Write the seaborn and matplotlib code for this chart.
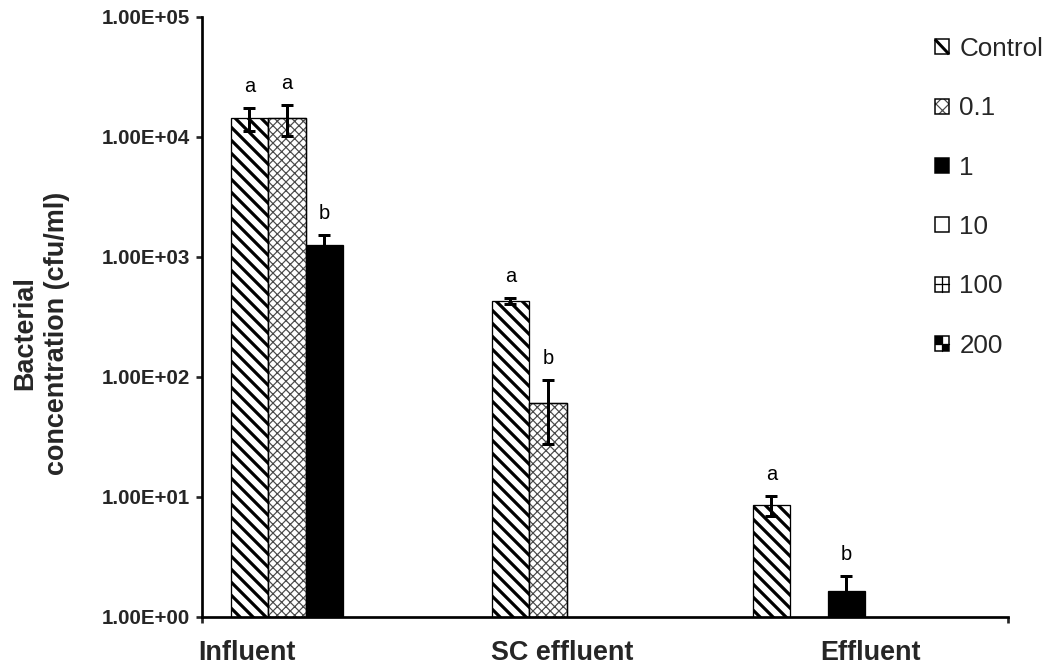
import numpy as np
import pandas as pd
import matplotlib
matplotlib.use("Agg")
import matplotlib.pyplot as plt
import seaborn as sns
from matplotlib.patches import Patch, Rectangle
from matplotlib.lines import Line2D
from matplotlib.legend_handler import HandlerBase
from matplotlib.ticker import FuncFormatter, NullLocator, FixedLocator

# ---------------- data ----------------
locations = ["Influent", "SC effluent", "Effluent"]
series = ["Control", "0.1", "1", "10", "100", "200"]

control_mean = [14400, 432, 8.6]
control_sd = [3200, 25, 1.6]
c01_mean = [14400, 61, np.nan]
c01_sd = [4200, 33.5, np.nan]
c1_mean = [1250, np.nan, 1.66]
c1_sd = [270, np.nan, 0.55]

control_letters = ["a", "a", "a"]
c01_letters = ["a", "b", ""]
c1_letters = ["b", "", "b"]

yticks = [1e0, 1e1, 1e2, 1e3, 1e4, 1e5]

rows = []
for name, means, sds, lets in [("Control", control_mean, control_sd, control_letters),
                               ("0.1", c01_mean, c01_sd, c01_letters),
                               ("1", c1_mean, c1_sd, c1_letters)]:
    for loc, m, s, l in zip(locations, means, sds, lets):
        if not np.isnan(m):
            rows.append({"location": loc, "series": name, "value": m, "sd": s, "letter": l})
df = pd.DataFrame(rows)

# ---------------- style ----------------
DPI = 156
W, H = 1053, 670
PT = 72.0 / DPI  # points per pixel

sns.set_style("white")
plt.rcParams["font.family"] = ["Liberation Sans", "DejaVu Sans"]
plt.rcParams["hatch.linewidth"] = 3.2 * PT

fig = plt.figure(figsize=(W / DPI, H / DPI), dpi=DPI)
ax = fig.add_axes([202 / W, 1 - 617 / H, (1008 - 202) / W, (617 - 17) / H])

palette = {"Control": "white", "0.1": "white", "1": "black",
           "10": "white", "100": "white", "200": "#555555"}
CONTROL_HATCH = "\\" * 4
CROSS_HATCH = "x" * 6
CROSS_COLOR = "#4a4a4a"
CROSS_LW = 1.2 * PT

sns.barplot(data=df, x="location", y="value", hue="series", order=locations,
            hue_order=series, palette=palette, width=0.86, dodge=True,
            errorbar=None, edgecolor="black", linewidth=1.3 * PT,
            saturation=1, legend=False, ax=ax)

ax.set_yscale("log")
ax.set_ylim(1, 1e5)
ax.set_xlim(-0.540, 2.548)

# match bars to data rows and style them
centers = {}
for patch in list(ax.patches):
    h = patch.get_height()
    if not np.isfinite(h) or h <= 0:
        continue
    cx = patch.get_x() + patch.get_width() / 2
    match = df[np.isclose(df["value"], h, rtol=1e-9)]
    for idx, r in match.iterrows():
        if idx in centers or abs(cx - locations.index(r["location"])) >= 0.5:
            continue
        centers[idx] = cx
        s = r["series"]
        if s == "Control":
            patch.set_hatch(CONTROL_HATCH)
            patch.set_edgecolor("black")
            if hasattr(patch, "set_hatch_linewidth"):
                patch.set_hatch_linewidth(3.2 * PT)
        elif s == "0.1":
            patch.set_facecolor("white")
            with plt.rc_context({"hatch.linewidth": CROSS_LW}):
                ov = Rectangle(patch.get_xy(), patch.get_width(), patch.get_height(),
                               fill=False, edgecolor=CROSS_COLOR, linewidth=0,
                               hatch=CROSS_HATCH, zorder=patch.get_zorder() + 0.1)
            if hasattr(ov, "set_hatch_linewidth"):
                ov.set_hatch_linewidth(CROSS_LW)
            ax.add_patch(ov)
            ax.add_patch(Rectangle(patch.get_xy(), patch.get_width(), patch.get_height(),
                                   fill=False, edgecolor="black", linewidth=1.3 * PT,
                                   zorder=patch.get_zorder() + 0.2))
        break

df["x"] = [centers[i] for i in df.index]

# error bars (cap length = 2 * capsize)
ax.errorbar(df["x"], df["value"], yerr=df["sd"], fmt="none", ecolor="black",
            elinewidth=3 * PT, capsize=6.3 * PT, capthick=3 * PT, zorder=5)

# significance letters
for _, r in df.iterrows():
    if r["letter"]:
        ax.annotate(r["letter"], (r["x"], r["value"] + r["sd"]),
                    xytext=(0, 16 * PT), textcoords="offset points",
                    ha="center", va="baseline", fontsize=20 * PT, color="black")

# y axis
ax.yaxis.set_major_locator(FixedLocator(yticks))
ax.yaxis.set_minor_locator(NullLocator())
ax.yaxis.set_major_formatter(FuncFormatter(lambda v, p: f"{v:.2E}"))
ax.tick_params(axis="y", which="major", direction="out", length=6 * PT,
               width=2.7 * PT, pad=6 * PT, labelsize=20.5 * PT, left=True)
for lab in ax.get_yticklabels():
    lab.set_fontweight("bold")

# x axis: labels at their layout positions, tick marks only at the ends
LABEL_X_PX = [247, 562, 870]
inv = ax.transData.inverted()
label_pos = [inv.transform((px, 0))[0] for px in LABEL_X_PX]
ax.set_xticks(label_pos)
ax.set_xticklabels(locations, fontweight="bold", fontsize=27 * PT)
ax.tick_params(axis="x", which="major", length=0, pad=23 * PT, bottom=True)
x0, x1 = ax.get_xlim()
ax.xaxis.set_minor_locator(FixedLocator([x0, x1]))
ax.tick_params(axis="x", which="minor", direction="out", length=6 * PT,
               width=2.7 * PT, bottom=True)
ax.set_xlabel("")
ax.set_ylabel("")

for side in ["top", "right"]:
    ax.spines[side].set_visible(False)
for side in ["left", "bottom"]:
    ax.spines[side].set_linewidth(2.7 * PT)
    ax.spines[side].set_color("black")

# y label
fig.text(41 / W, 1 - 333 / H, "Bacterial\nconcentration (cfu/ml)", rotation=90,
         ha="center", va="center", fontsize=27 * PT, fontweight="bold",
         linespacing=1.26, multialignment="center")


# legend with small drawn swatches
class Swatch(HandlerBase):
    def __init__(self, face, diag=False, cross=False, quads=False, hatch=None):
        super().__init__()
        self.face, self.diag, self.cross, self.quads, self.hatch = face, diag, cross, quads, hatch

    def create_artists(self, legend, orig_handle, xdescent, ydescent, width, height,
                       fontsize, trans):
        x0, y0 = -xdescent, -ydescent
        arts = [Rectangle((x0, y0), width, height, facecolor=self.face,
                          edgecolor="none", transform=trans)]
        if self.hatch:
            with plt.rc_context({"hatch.linewidth": CROSS_LW}):
                hp = Rectangle((x0, y0), width, height, fill=False, edgecolor=CROSS_COLOR,
                               linewidth=0, hatch=self.hatch, transform=trans)
            if hasattr(hp, "set_hatch_linewidth"):
                hp.set_hatch_linewidth(CROSS_LW)
            arts.append(hp)
        if self.quads:
            arts.append(Rectangle((x0, y0 + height / 2), width / 2, height / 2,
                                  facecolor="black", edgecolor="none", transform=trans))
            arts.append(Rectangle((x0 + width / 2, y0), width / 2, height / 2,
                                  facecolor="black", edgecolor="none", transform=trans))
        if self.diag:
            arts.append(Line2D([x0, x0 + width], [y0 + height, y0], color="black",
                               lw=3 * PT, solid_capstyle="butt", transform=trans))
        if self.cross:
            arts.append(Line2D([x0, x0 + width], [y0 + height / 2] * 2, color="black",
                               lw=1.3 * PT, transform=trans))
            arts.append(Line2D([x0 + width / 2] * 2, [y0, y0 + height], color="black",
                               lw=1.3 * PT, transform=trans))
        arts.append(Rectangle((x0, y0), width, height, fill=False, edgecolor="black",
                              linewidth=1.5 * PT, transform=trans))
        return arts


handles = [Patch(facecolor=palette[s]) for s in series]
swatches = [Swatch("white", diag=True), Swatch("white", hatch="xxxx"), Swatch("black"),
            Swatch("white"), Swatch("white", cross=True), Swatch("white", cross=True, quads=True)]
hmap = {h: sw for h, sw in zip(handles, swatches)}
LEG_FS = 26
leg = ax.legend(handles, series, handler_map=hmap, loc="upper left",
                bbox_to_anchor=(935 / W, 1 - 37 / H), bbox_transform=fig.transFigure,
                frameon=False, fontsize=LEG_FS * PT, handlelength=14 / LEG_FS,
                handleheight=13 / LEG_FS, handletextpad=0.4, labelspacing=1.36,
                borderpad=0, borderaxespad=0)

fig.savefig("out.png", dpi=DPI)
